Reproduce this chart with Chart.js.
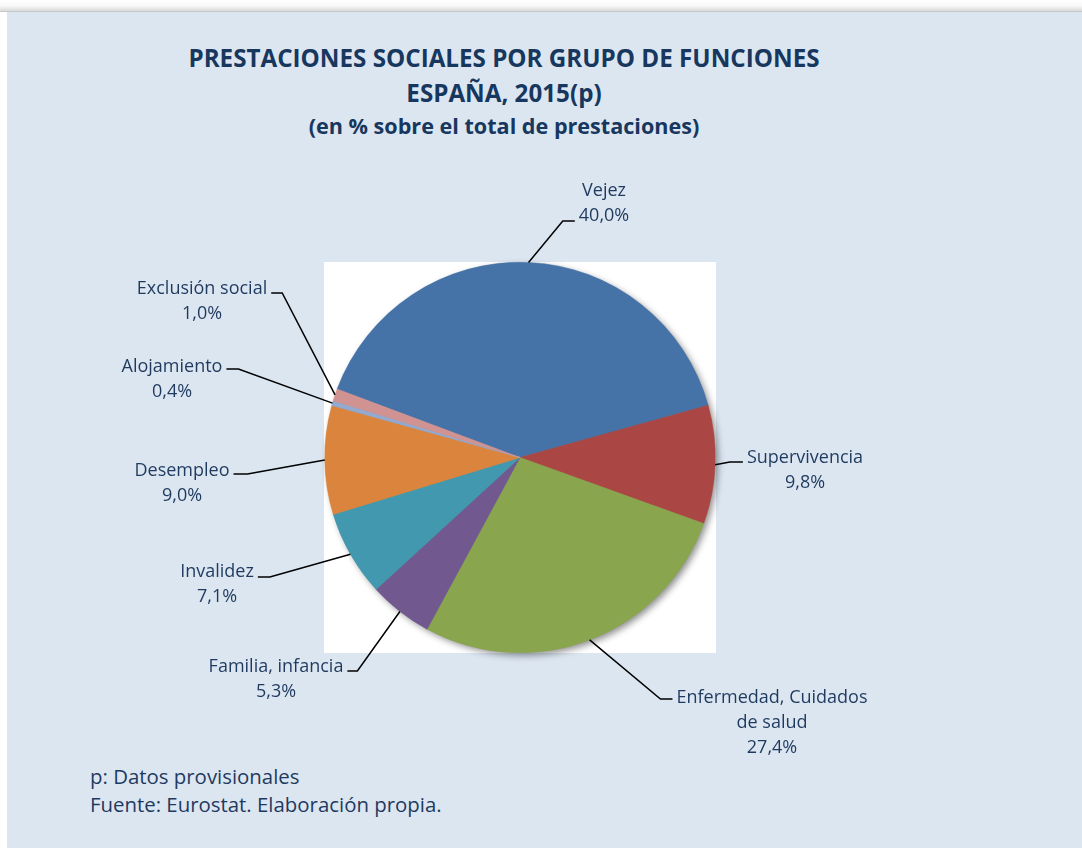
<!DOCTYPE html>
<html lang="es">
<head>
<meta charset="utf-8">
<title>Prestaciones sociales por grupo de funciones</title>
<script src="https://cdn.jsdelivr.net/npm/chart.js@4.4.1/dist/chart.umd.min.js"></script>
<style>
  html, body { margin: 0; padding: 0; background: #fff; }
  #page { position: relative; width: 1082px; height: 848px; overflow: hidden; font-family: "Open Sans", sans-serif; }
  #topbar { position: absolute; left: 0; top: 0; width: 1082px; height: 11px;
            background: linear-gradient(#ffffff, #f7f7f7 55%, #dadada); border-bottom: 1px solid #c4c8cc; }
  #panel { position: absolute; left: 7px; top: 12px; right: 0; bottom: 0; background: #dce6f1; }
  .title { position: absolute; left: 0; width: 1008px; text-align: center; color: #17375e; font-weight: 700; white-space: nowrap; }
  .note { position: absolute; left: 90px; color: #1f3a5f; font-size: 20.4px; line-height: 28px; white-space: nowrap; }
  canvas { position: absolute; left: 0; top: 0; }
</style>
</head>
<body>
<div id="page">
  <div id="topbar"></div>
  <div id="panel"></div>
  <div class="title" style="top:41px; font-size:24.2px; line-height:34px;">PRESTACIONES SOCIALES POR GRUPO DE FUNCIONES</div>
  <div class="title" style="top:76px; font-size:24.2px; line-height:34px;">ESPAÑA, 2015(p)</div>
  <div class="title" style="top:111px; font-size:21.6px; line-height:30px;">(en % sobre el total de prestaciones)</div>
  <div class="note" style="top:762px;">p: Datos provisionales</div>
  <div class="note" style="top:790px;">Fuente: Eurostat. Elaboración propia.</div>
  <canvas id="pieChart" width="1082" height="848"></canvas>
</div>

<script>
// Funciones de protección social, % sobre el total de prestaciones
const funciones = ['Vejez', 'Supervivencia', 'Enfermedad, Cuidados de salud', 'Familia, infancia',
                   'Invalidez', 'Desempleo', 'Alojamiento', 'Exclusión social'];
const porcentajes = [40.0, 9.8, 27.4, 5.3, 7.1, 9.0, 0.4, 1.0];
// Texto de cada etiqueta, partido en líneas
const etiquetas = [['Vejez'], ['Supervivencia'], ['Enfermedad, Cuidados', 'de salud'], ['Familia, infancia'],
                   ['Invalidez'], ['Desempleo'], ['Alojamiento'], ['Exclusión social']];
const colores = ['#4572A7', '#AA4643', '#89A54E', '#71588F', '#4198AF', '#DB843D', '#93A9CF', '#D19392'];

// Posición de cada etiqueta: centro del texto, línea base de la primera línea,
// lado de la guía, línea a la que se une, altura del tramo horizontal y su largo
const labelLayout = [
    { x: 604, y: 196, side: 'right', line: 1, ly: 221, run: 12 },
    { x: 805, y: 463, side: 'right', line: 0, ly: 462, run: 13 },
    { x: 772, y: 703, side: 'right', line: 0, ly: 699, run: 12 },
    { x: 276, y: 672, side: 'left',  line: 0, ly: 671, run: 10 },
    { x: 217, y: 577, side: 'left',  line: 0, ly: 577, run: 12 },
    { x: 182, y: 476, side: 'left',  line: 0, ly: 474, run: 14 },
    { x: 172, y: 372, side: 'left',  line: 0, ly: 369, run: 12 },
    { x: 202, y: 294, side: 'left',  line: 0, ly: 293, run: 11 }
];

const fmt = v => v.toFixed(1).replace('.', ',') + '%';

// White plot area behind the pie
const plotBackground = {
    id: 'plotBackground',
    beforeDraw(chart) {
        const { ctx, chartArea: a } = chart;
        ctx.save();
        ctx.fillStyle = '#ffffff';
        ctx.fillRect(a.left, a.top, a.right - a.left, a.bottom - a.top);
        ctx.restore();
    }
};

// Soft drop shadow under the whole pie
const pieShadow = {
    id: 'pieShadow',
    beforeDatasetsDraw(chart) {
        const arc = chart.getDatasetMeta(0).data[0];
        if (!arc) return;
        const { ctx } = chart;
        ctx.save();
        ctx.shadowColor = 'rgba(0, 0, 0, 0.45)';
        ctx.shadowBlur = 7;
        ctx.shadowOffsetX = 3;
        ctx.shadowOffsetY = 3;
        ctx.fillStyle = '#8a8f96';
        ctx.beginPath();
        ctx.arc(arc.x, arc.y, arc.outerRadius - 0.5, 0, Math.PI * 2);
        ctx.fill();
        ctx.restore();
    }
};

// Labels with leader lines from the edge of each slice
const leaderLabels = {
    id: 'leaderLabels',
    afterDatasetsDraw(chart) {
        const { ctx } = chart;
        const meta = chart.getDatasetMeta(0);
        ctx.save();
        ctx.font = '18px "Open Sans"';
        ctx.textAlign = 'center';
        ctx.textBaseline = 'alphabetic';
        meta.data.forEach((arc, i) => {
            const lay = labelLayout[i];
            const lines = etiquetas[i].concat([fmt(porcentajes[i])]);
            const mid = (arc.startAngle + arc.endAngle) / 2;
            const ex = arc.x + Math.cos(mid) * arc.outerRadius;
            const ey = arc.y + Math.sin(mid) * arc.outerRadius;
            const w = ctx.measureText(lines[lay.line]).width;
            let endX, elbowX;
            if (lay.side === 'left') {
                endX = lay.x + w / 2 + 4;
                elbowX = endX + lay.run;
            } else {
                endX = lay.x - w / 2 - 4;
                elbowX = endX - lay.run;
            }
            ctx.strokeStyle = '#000000';
            ctx.lineWidth = 1.5;
            ctx.beginPath();
            ctx.moveTo(ex, ey);
            ctx.lineTo(elbowX, lay.ly);
            ctx.lineTo(endX, lay.ly);
            ctx.stroke();

            ctx.fillStyle = '#1f3a5f';
            lines.forEach((t, k) => ctx.fillText(t, lay.x, lay.y + k * 25));
        });
        ctx.restore();
    }
};

new Chart(document.getElementById('pieChart'), {
    type: 'pie',
    data: {
        labels: funciones,
        datasets: [{
            data: porcentajes,
            backgroundColor: colores,
            borderColor: colores,
            borderWidth: 0.5
        }]
    },
    options: {
        responsive: false,
        animation: false,
        rotation: -69.5,
        layout: { padding: { left: 324, top: 262, right: 366, bottom: 195 } },
        plugins: {
            legend: { display: false },
            tooltip: { enabled: false }
        }
    },
    plugins: [plotBackground, pieShadow, leaderLabels]
});
</script>
</body>
</html>
